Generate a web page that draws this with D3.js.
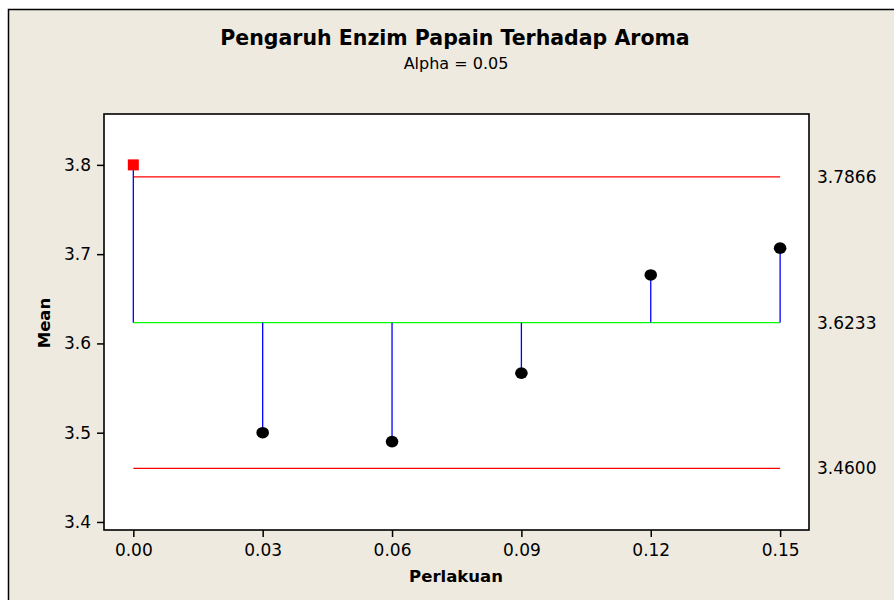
<!DOCTYPE html>
<html>
<head>
<meta charset="utf-8">
<script src="https://cdn.jsdelivr.net/npm/d3@7"></script>
<style>
  body { margin: 0; background: #fff; }
  text { font-family: "DejaVu Sans", Verdana, sans-serif; fill: #000; }
</style>
</head>
<body>
<svg id="chart"></svg>
<script>
// Data
const levels = [0.00, 0.03, 0.06, 0.09, 0.12, 0.15];
const means = [3.8, 3.5, 3.49, 3.5667, 3.6767, 3.7067];
const centerLine = 3.6233;
const upperLimit = 3.7866;
const lowerLimit = 3.46;
const yTicks = [3.4, 3.5, 3.6, 3.7, 3.8];
const xTickLabels = ["0.00", "0.03", "0.06", "0.09", "0.12", "0.15"];

const width = 894;
const height = 600;
const plot = { left: 104, top: 114, right: 809, bottom: 530 };

const svg = d3.select("#chart")
  .attr("width", width)
  .attr("height", height);

// outer panel
svg.append("rect")
  .attr("x", 8.5).attr("y", 9.5)
  .attr("width", 900).attr("height", 600)
  .attr("fill", "#eeeae0")
  .attr("stroke", "#000").attr("stroke-width", 1.5);

// plot area
svg.append("rect")
  .attr("x", plot.left).attr("y", plot.top)
  .attr("width", plot.right - plot.left).attr("height", plot.bottom - plot.top)
  .attr("fill", "#fff")
  .attr("stroke", "#000").attr("stroke-width", 1.6);

const xScale = d3.scaleLinear()
  .domain([-0.0068, 0.1567])
  .range([plot.left, plot.right]);

const yScale = d3.scaleLinear()
  .domain([3.391, 3.857])
  .range([plot.bottom, plot.top]);

// axes
const xAxis = d3.axisBottom(xScale)
  .tickValues(levels)
  .tickFormat((d, i) => xTickLabels[i])
  .tickSize(7).tickSizeOuter(0);
const xg = svg.append("g")
  .attr("transform", `translate(0,${plot.bottom})`)
  .call(xAxis);
xg.select(".domain").remove();
xg.selectAll(".tick line").attr("stroke", "#000").attr("stroke-width", 1.5);
xg.selectAll(".tick text")
  .attr("y", 14)
  .style("font-size", "17px")
  .style("font-family", "\"DejaVu Sans\", sans-serif");

const yAxis = d3.axisLeft(yScale)
  .tickValues(yTicks)
  .tickFormat(d3.format(".1f"))
  .tickSize(7).tickSizeOuter(0);
const yg = svg.append("g")
  .attr("transform", `translate(${plot.left},0)`)
  .call(yAxis);
yg.select(".domain").remove();
yg.selectAll(".tick line").attr("stroke", "#000").attr("stroke-width", 1.5);
yg.selectAll(".tick text")
  .attr("x", -13)
  .style("font-size", "17px")
  .style("font-family", "\"DejaVu Sans\", sans-serif");

// decision limits and center line
const x0 = xScale(levels[0]);
const x1 = xScale(levels[levels.length - 1]);
[upperLimit, lowerLimit].forEach(v => {
  svg.append("line")
    .attr("x1", x0).attr("x2", x1)
    .attr("y1", yScale(v)).attr("y2", yScale(v))
    .attr("stroke", "#ff0000").attr("stroke-width", 1.3);
});
svg.append("line")
  .attr("x1", x0).attr("x2", x1)
  .attr("y1", yScale(centerLine)).attr("y2", yScale(centerLine))
  .attr("stroke", "#00ff00").attr("stroke-width", 1.3);

// stems
svg.selectAll(".stem")
  .data(levels)
  .enter().append("line")
  .attr("class", "stem")
  .attr("x1", d => xScale(d)).attr("x2", d => xScale(d))
  .attr("y1", yScale(centerLine))
  .attr("y2", (d, i) => yScale(means[i]))
  .attr("stroke", "#0000ff").attr("stroke-width", 1.3);

// points: outside limits drawn as red square
const pts = levels.map((d, i) => ({ x: d, y: means[i], out: means[i] > upperLimit || means[i] < lowerLimit }));
svg.selectAll(".dot")
  .data(pts.filter(p => !p.out))
  .enter().append("ellipse")
  .attr("cx", d => xScale(d.x))
  .attr("cy", d => yScale(d.y))
  .attr("rx", 6.3).attr("ry", 5.8)
  .attr("fill", "#000");
svg.selectAll(".sq")
  .data(pts.filter(p => p.out))
  .enter().append("rect")
  .attr("x", d => xScale(d.x) - 5.5)
  .attr("y", d => yScale(d.y) - 5.5)
  .attr("width", 11).attr("height", 11)
  .attr("fill", "#ff0000");

// limit labels on the right
[upperLimit, centerLine, lowerLimit].forEach(v => {
  svg.append("text")
    .attr("x", 817)
    .attr("y", yScale(v))
    .attr("dy", "0.35em")
    .style("font-size", "17px")
    .text(d3.format(".4f")(v));
});

// titles
svg.append("text")
  .attr("x", 455).attr("y", 45)
  .attr("text-anchor", "middle")
  .style("font-size", "20.5px").style("font-weight", "bold")
  .text("Pengaruh Enzim Papain Terhadap Aroma");
svg.append("text")
  .attr("x", 456).attr("y", 69)
  .attr("text-anchor", "middle")
  .style("font-size", "16px")
  .text("Alpha = 0.05");

svg.append("text")
  .attr("x", 456).attr("y", 582)
  .attr("text-anchor", "middle")
  .style("font-size", "16.5px").style("font-weight", "bold")
  .text("Perlakuan");
svg.append("text")
  .attr("transform", "translate(49.5,323) rotate(-90)")
  .attr("text-anchor", "middle")
  .style("font-size", "16.5px").style("font-weight", "bold")
  .text("Mean");
</script>
</body>
</html>
